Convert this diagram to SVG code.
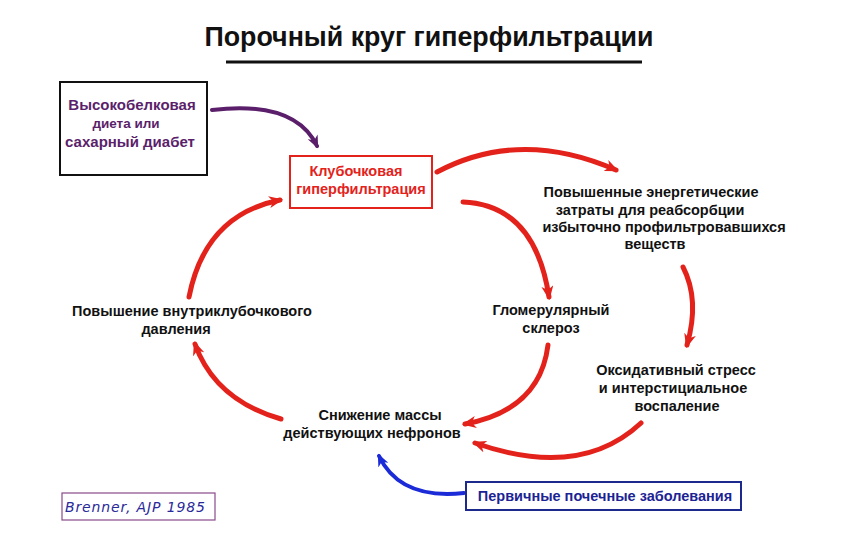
<svg xmlns="http://www.w3.org/2000/svg" width="851" height="540" viewBox="0 0 851 540">
<defs>
<style>
text{font-family:"Liberation Sans",Arial,sans-serif;font-weight:bold;text-anchor:middle}
.t{font-size:14.5px;fill:#111}
.red{stroke:#e3231b;stroke-width:5;fill:none;stroke-linecap:round;marker-end:url(#ar)}
</style>
<marker id="ar" viewBox="0 0 14 12" refX="11" refY="6" markerWidth="14" markerHeight="12" markerUnits="userSpaceOnUse" orient="auto"><path d="M0,0 L14,6 L0,12 L4,6 z" fill="#e3231b"/></marker>
<marker id="ap" viewBox="0 0 14 12" refX="11" refY="6" markerWidth="13" markerHeight="11" markerUnits="userSpaceOnUse" orient="auto"><path d="M0,0 L14,6 L0,12 L4,6 z" fill="#5a1e6a"/></marker>
<marker id="ab" viewBox="0 0 14 12" refX="11" refY="6" markerWidth="13" markerHeight="11" markerUnits="userSpaceOnUse" orient="auto"><path d="M0,0 L14,6 L0,12 L4,6 z" fill="#1b2bd8"/></marker>
</defs>
<rect width="851" height="540" fill="#fff"/>
<g id="title">
<text x="429" y="46" style="font-size:26.8px;fill:#111">Порочный круг гиперфильтрации</text>
<line x1="226" y1="62" x2="642" y2="62" stroke="#111" stroke-width="3"/>
</g>
<g id="connectors">
<path d="M212,110 Q295,100 317,146" stroke="#5a1e6a" stroke-width="4" fill="none" stroke-linecap="round" marker-end="url(#ap)"/>
<path class="red" d="M437,172 Q520,128 616,170"/>
<path class="red" d="M463,202 Q535,205 549,297"/>
<path class="red" d="M548,345 Q540,410 465,424"/>
<path class="red" d="M683,267 Q700,300 687,345"/>
<path class="red" d="M641,423 Q580,480 475,443"/>
<path class="red" d="M281,419 Q215,400 195,344"/>
<path class="red" d="M189,297 Q205,215 280,200"/>
<path d="M464,493 Q400,500 379,456" stroke="#1b2bd8" stroke-width="4" fill="none" stroke-linecap="round" marker-end="url(#ab)"/>
</g>
<g id="diet">
<rect x="60" y="82" width="147" height="93" fill="#fff" stroke="#111" stroke-width="2"/>
<text x="132" y="110" style="font-size:15px;fill:#5b1f6b">Высокобелковая</text>
<text x="126" y="128" style="font-size:13.5px;fill:#5b1f6b">диета или</text>
<text x="130" y="147" style="font-size:15px;fill:#5b1f6b">сахарный диабет</text>
</g>
<g id="hyperfiltration">
<rect x="290" y="156" width="142" height="52" fill="#fff" stroke="#e3231b" stroke-width="2"/>
<text x="356" y="176" style="font-size:14.5px;fill:#e3231b">Клубочковая</text>
<text x="361" y="194" style="font-size:14.5px;fill:#e3231b">гиперфильтрация</text>
</g>
<g id="energy">
<text class="t" x="651" y="197">Повышенные энергетические</text>
<text class="t" x="650" y="215">затраты для реабсорбции</text>
<text class="t" x="664" y="232">избыточно профильтровавшихся</text>
<text class="t" x="655" y="249">веществ</text>
</g>
<g id="sclerosis">
<text class="t" x="551" y="315">Гломерулярный</text>
<text class="t" x="551" y="333">склероз</text>
</g>
<g id="oxidative">
<text class="t" x="676" y="375">Оксидативный стресс</text>
<text class="t" x="673" y="393">и интерстициальное</text>
<text class="t" x="677" y="411">воспаление</text>
</g>
<g id="nephrons">
<text class="t" x="380" y="420">Снижение массы</text>
<text class="t" x="372" y="438">действующих нефронов</text>
</g>
<g id="pressure">
<text class="t" x="192" y="316">Повышение внутриклубочкового</text>
<text class="t" x="176" y="334">давления</text>
</g>
<g id="primary">
<rect x="466" y="482" width="275" height="28" fill="#fff" stroke="#1c2a8e" stroke-width="2"/>
<text x="605" y="501" style="font-size:14.5px;fill:#1c2394">Первичные почечные заболевания</text>
</g>
<g id="ref">
<rect x="62" y="493" width="153" height="27" fill="#fff" stroke="#8a4a8a" stroke-width="1.2"/>
<text x="135" y="512" style="font-family:'DejaVu Sans',sans-serif;font-weight:normal;font-style:italic;font-size:14px;fill:#2a2a9a" textLength="140">Brenner, AJP 1985</text>
</g>
</svg>
